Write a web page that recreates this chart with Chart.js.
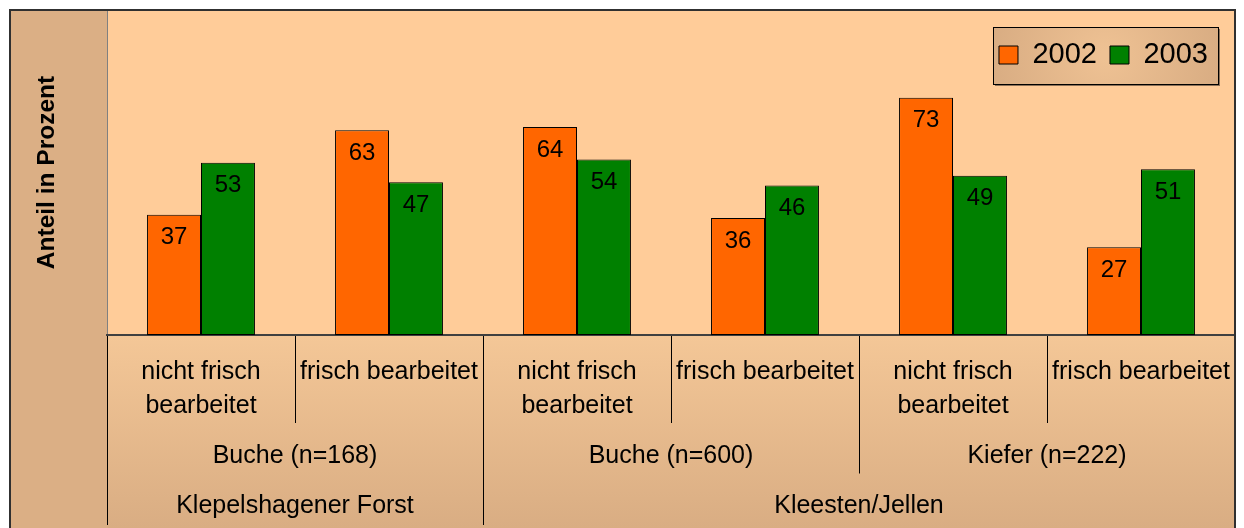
<!DOCTYPE html>
<html>
<head>
<meta charset="utf-8">
<script src="https://cdn.jsdelivr.net/npm/chart.js@4.4.1/dist/chart.umd.min.js"></script>
<style>
  html, body { margin: 0; padding: 0; background: #fff; }
  #wrap { width: 1244px; height: 528px; }
</style>
</head>
<body>
<div id="wrap"><canvas id="chart"></canvas></div>
<script>
// first row under the bars: treatment of the logs
const treatments = [
    ['nicht frisch', 'bearbeitet'], 'frisch bearbeitet',
    ['nicht frisch', 'bearbeitet'], 'frisch bearbeitet',
    ['nicht frisch', 'bearbeitet'], 'frisch bearbeitet'
];
// second row: tree species and sample size
const stands = ['Buche (n=168)', 'Buche (n=600)', 'Kiefer (n=222)'];
// third row: forest, spanning [first, last) treatment columns
const forests = ['Klepelshagener Forst', 'Kleesten/Jellen'];
const forestSpans = [[0, 2], [2, 6]];

const years = ['2002', '2003'];
const share2002 = [37, 63, 64, 36, 73, 27];
const share2003 = [53, 47, 54, 46, 49, 51];

const fontFamily = "'Liberation Sans', Arial, sans-serif";
const labelFont = { family: fontFamily, size: 25, lineHeight: 1.34 };

const forestCenters = forestSpans.map(s => (s[0] + s[1]) / 2);
const forestStarts = forestSpans.map(s => s[0]);
const forestTicks = [...new Set([...forestStarts, ...forestCenters, forestSpans[forestSpans.length - 1][1]])].sort((a, b) => a - b);

// backgrounds: tan frame, peach plot area, legend panel
const backdrop = {
    id: 'backdrop',
    beforeDraw(chart) {
        const { ctx, chartArea: a, width, height } = chart;
        ctx.save();
        ctx.fillStyle = '#ffffff';
        ctx.fillRect(0, 0, width, height);
        ctx.fillStyle = '#dbaf85';
        ctx.fillRect(10, 10, a.right - 10, height - 10);
        const g = ctx.createLinearGradient(0, a.bottom, 0, height);
        g.addColorStop(0, '#f4c797');
        g.addColorStop(1, '#d9ad83');
        ctx.fillStyle = g;
        ctx.fillRect(a.left, a.bottom, a.right - a.left, height - a.bottom);
        ctx.fillStyle = '#ffcc99';
        ctx.fillRect(a.left, a.top, a.right - a.left, a.bottom - a.top);

        const lg = chart.legend;
        if (lg && lg.lineWidths) {
            const pad = lg.options.labels.padding;
            const itemH = lg.options.labels.font.size;
            const cy = lg.top + pad + itemH / 2;
            const x0 = lg.right - lg.lineWidths[0] - 6;
            const x1 = lg.right - pad + 10;
            const y0 = cy - 28, y1 = cy + 29;
            ctx.fillStyle = '#8a7058';
            ctx.fillRect(x0 + 2, y0 + 2, x1 - x0, y1 - y0);
            const rg = ctx.createRadialGradient((x0 + x1) / 2, cy, 5, (x0 + x1) / 2, cy, (x1 - x0) / 2);
            rg.addColorStop(0, '#eec193');
            rg.addColorStop(1, '#d9ad83');
            ctx.fillStyle = rg;
            ctx.fillRect(x0, y0, x1 - x0, y1 - y0);
            ctx.strokeStyle = '#000';
            ctx.lineWidth = 1;
            ctx.strokeRect(Math.round(x0) + 0.5, Math.round(y0) + 0.5, Math.round(x1 - x0), Math.round(y1 - y0));
        }
        ctx.restore();
    }
};

// the legend sits in the top band; move it down into the plot corner
const legendShift = {
    id: 'legendShift',
    afterLayout(chart) {
        const lg = chart.legend;
        lg.left -= 14; lg.right -= 14;
        lg.top += 69.5; lg.bottom += 69.5;
    }
};

// value written inside the top of each bar
const barValues = {
    id: 'barValues',
    afterDatasetsDraw(chart) {
        const { ctx } = chart;
        ctx.save();
        ctx.font = `24px ${fontFamily}`;
        ctx.fillStyle = '#000';
        ctx.textAlign = 'center';
        ctx.textBaseline = 'middle';
        chart.data.datasets.forEach((ds, i) => {
            chart.getDatasetMeta(i).data.forEach((bar, j) => {
                ctx.fillText(String(ds.data[j]), bar.x, bar.y + 23);
            });
        });
        ctx.restore();
    }
};

// outer border
const frame = {
    id: 'frame',
    afterDraw(chart) {
        const { ctx, chartArea: a, height } = chart;
        ctx.save();
        ctx.strokeStyle = '#303030';
        ctx.lineWidth = 2;
        ctx.strokeRect(10, 10, a.right - 10, height);
        ctx.restore();
    }
};

const fixHeight = h => axis => { axis.height = h; };

new Chart(document.getElementById('chart'), {
    type: 'bar',
    data: {
        labels: treatments,
        datasets: [{
            label: years[0],
            data: share2002,
            backgroundColor: '#ff6600',
            borderColor: '#000',
            borderWidth: 1,
            borderSkipped: false
        }, {
            label: years[1],
            data: share2003,
            backgroundColor: '#008000',
            borderColor: '#000',
            borderWidth: 1,
            borderSkipped: false
        }]
    },
    options: {
        responsive: true,
        maintainAspectRatio: false,
        animation: false,
        datasets: {
            bar: { categoryPercentage: 0.574, barPercentage: 1 }
        },
        // top padding is negative so the legend row takes no room above the plot
        layout: { padding: { left: 10, right: 9, top: -42, bottom: 5.5 } },
        plugins: {
            legend: {
                position: 'top',
                align: 'end',
                labels: {
                    font: { family: fontFamily, size: 29 },
                    color: '#000',
                    boxWidth: 19,
                    boxHeight: 18,
                    padding: 13
                }
            },
            tooltip: { enabled: false }
        },
        scales: {
            y: {
                min: 0,
                max: 100,
                ticks: { display: false },
                grid: { display: false, drawTicks: false },
                border: { display: true, color: '#808080', width: 1 },
                title: {
                    display: true,
                    text: 'Anteil in Prozent',
                    color: '#000',
                    font: { family: fontFamily, size: 24.5, weight: 'bold', lineHeight: 1.2 },
                    padding: { top: 22.3, bottom: 45.3 }
                }
            },
            // tick marks run the full height of each row, labels are pulled up beside them
            x: {
                position: 'bottom',
                weight: 1,
                offset: true,
                afterFit: fixHeight(86.5),
                grid: { offset: true, drawOnChartArea: false, tickLength: 88, color: '#000', lineWidth: 1 },
                border: { color: '#404040', width: 2 },
                ticks: {
                    autoSkip: false, maxRotation: 0, minRotation: 0,
                    padding: -67.5, color: '#000', font: labelFont
                }
            },
            stand: {
                type: 'category',
                labels: stands,
                position: 'bottom',
                weight: 2,
                offset: true,
                afterFit: fixHeight(51),
                grid: { offset: true, drawOnChartArea: false, tickLength: 52, color: '#000', lineWidth: 1 },
                border: { display: false },
                ticks: {
                    autoSkip: false, maxRotation: 0, minRotation: 0,
                    padding: -34, color: '#000', font: labelFont
                }
            },
            forest: {
                type: 'linear',
                position: 'bottom',
                weight: 3,
                min: 0,
                max: treatments.length,
                offset: false,
                afterFit: fixHeight(50),
                afterBuildTicks: axis => {
                    axis.ticks = forestTicks.map(v => ({ value: v }));
                },
                grid: {
                    offset: false,
                    drawOnChartArea: false,
                    tickLength: 52.5,
                    lineWidth: 1,
                    color: c => (c.tick && forestStarts.includes(c.tick.value)) ? '#000' : 'rgba(0,0,0,0)'
                },
                border: { display: false },
                ticks: {
                    autoSkip: false, maxRotation: 0, minRotation: 0,
                    padding: -35.5, color: '#000', font: labelFont,
                    callback: v => {
                        const k = forestCenters.indexOf(v);
                        return k >= 0 ? forests[k] : '';
                    }
                }
            }
        }
    },
    plugins: [backdrop, legendShift, barValues, frame]
});
</script>
</body>
</html>
